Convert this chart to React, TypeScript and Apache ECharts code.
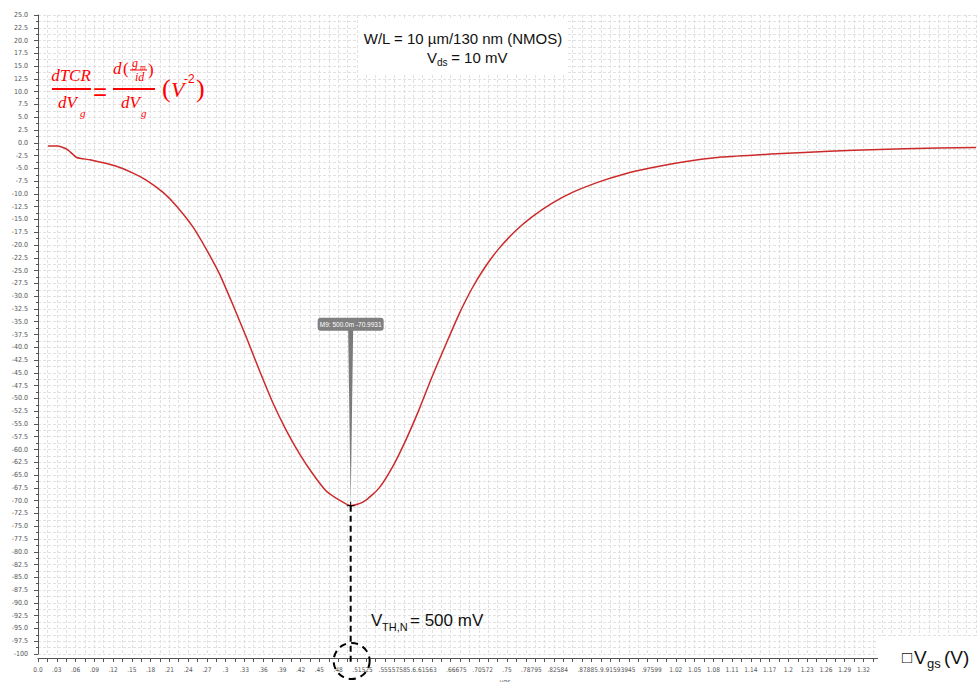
import React, { useEffect, useRef } from "react";
import * as echarts from "echarts";

// Vgs (V) sample points
const vgs = [
  0.016, 0.031, 0.046, 0.062, 0.083, 0.123, 0.152, 0.173, 0.2, 0.221, 0.248, 0.269,
  0.29, 0.311, 0.333, 0.354, 0.375, 0.397, 0.418, 0.439, 0.46, 0.482, 0.5, 0.521,
  0.545, 0.567, 0.588, 0.609, 0.63, 0.652, 0.673, 0.694, 0.715, 0.737, 0.763, 0.79,
  0.821, 0.853, 0.896, 0.938, 0.981, 1.029, 1.093, 1.172, 1.225, 1.305, 1.385, 1.5,
];
// dTCR/dVg (V^-2)
const dtcr = [
  -0.65, -0.65, -1.23, -2.87, -3.32, -4.49, -5.93, -7.3, -9.7, -12.3, -16.5, -20.8,
  -25.6, -31.5, -38.0, -44.5, -50.7, -56.25, -60.8, -64.7, -68.0, -69.9, -70.9931, -70.2,
  -67.6, -63.4, -58.2, -52.3, -45.8, -39.5, -33.6, -28.5, -24.3, -20.7, -17.3, -14.5,
  -11.9, -9.8, -7.7, -6.1, -4.9, -3.8, -2.8, -2.2, -1.9, -1.45, -1.17, -0.91,
];
// x tick labels shown by the original tool
const xTickLabels = [
  "0.0", ".03", ".06", ".09", ".12", ".15", ".18", ".21", ".24", ".27", ".3", ".33", ".36",
  ".39", ".42", ".45", ".48", ".51", ".525", ".555", ".57", ".585", ".6", ".615", ".63",
  ".66", ".675", ".705", ".72", ".75", ".78", ".795", ".825", ".84", ".87", ".885", ".9",
  ".915", ".93", ".945", ".975", ".99", "1.02", "1.05", "1.08", "1.11", "1.14", "1.17",
  "1.2", "1.23", "1.26", "1.29", "1.32",
];
const markerX = 0.5;
const markerY = -70.9931;
const markerLabel = "M9: 500.0m -70.9931";

const RED = "#ff0000";
const SERIF = "'Liberation Serif', 'DejaVu Serif', serif";
const SANS = "'Liberation Sans', Arial, sans-serif";
const AXF = "'DejaVu Sans Condensed', 'Liberation Sans Narrow', 'Liberation Sans', sans-serif";

export default function App() {
  const ref = useRef<HTMLDivElement>(null);
  useEffect(() => {
    if (!ref.current) return;
    const chart = echarts.init(ref.current, null, { renderer: "svg" });
    const labelMap = new Map<number, string>();
    xTickLabels.forEach((t) => labelMap.set(Math.round(parseFloat(t) * 1000), t));
    const grid = "#e1e1e1";
    chart.setOption({
      animation: false,
      backgroundColor: "#ffffff",
      grid: { left: 38, right: 0, top: 15, bottom: 28, containLabel: false },
      xAxis: {
        type: "value",
        min: 0,
        max: 1.5,
        interval: 0.015,
        offset: 4,
        axisLine: { show: true, onZero: false, lineStyle: { color: "#555", width: 1 } },
        axisTick: { show: true, length: 4, lineStyle: { color: "#555" } },
        axisLabel: {
          interval: 0,
          hideOverlap: false,
          fontSize: 6.5,
          color: "#555",
          fontFamily: AXF,
          margin: 8,
          formatter: (v: number) => labelMap.get(Math.round(v * 1000)) ?? "",
        },
        splitLine: { show: true, lineStyle: { color: grid, type: [3, 2], width: 1 } },
      },
      yAxis: {
        type: "value",
        min: -100,
        max: 25,
        interval: 2.5,
        offset: 3,
        axisLine: { show: true, lineStyle: { color: "#555", width: 1 } },
        axisTick: { show: true, length: 4, lineStyle: { color: "#555" } },
        minorTick: { show: true, splitNumber: 2, length: 2, lineStyle: { color: "#555" } },
        axisLabel: {
          fontSize: 7,
          color: "#555",
          fontFamily: AXF,
          margin: 7,
          formatter: (v: number) => (Math.abs(v + 100) < 1e-6 ? "-100" : v.toFixed(1)),
        },
        splitLine: { show: true, lineStyle: { color: grid, type: [3, 2], width: 1 } },
        minorSplitLine: { show: true, lineStyle: { color: grid, type: [3, 2], width: 1 } },
      },
      series: [
        {
          type: "line",
          data: vgs.map((x, i) => [x, dtcr[i]]),
          showSymbol: false,
          symbol: "none",
          smooth: 0.2,
          lineStyle: { color: "#cc2a2a", width: 1.5 },
          z: 3,
        },
      ],
    });

    const p = chart.convertToPixel({ gridIndex: 0 }, [markerX, markerY]) as number[];
    const axisBottom = (chart.convertToPixel({ gridIndex: 0 }, [0, -100]) as number[])[1];
    const px = p[0];
    const py = p[1];
    const Z = 100;

    const t = (text: string, x: number, y: number, size: number, extra: any = {}) => ({
      type: "text",
      z: Z + 2,
      x,
      y,
      style: {
        text,
        fontSize: size,
        fill: extra.fill ?? RED,
        fontFamily: extra.fontFamily ?? SERIF,
        fontStyle: extra.fontStyle ?? "italic",
        textAlign: extra.align ?? "left",
        textVerticalAlign: "middle",
      },
    });
    const bar = (x1: number, x2: number, y: number, h = 2) => ({
      type: "rect",
      z: Z + 2,
      shape: { x: x1, y: y - h / 2, width: x2 - x1, height: h },
      style: { fill: RED },
    });
    const black = { fill: "#111", fontFamily: SANS, fontStyle: "normal" };

    chart.setOption({
      graphic: [
        // top info box
        { type: "rect", z: Z, shape: { x: 358, y: 18, width: 210, height: 55 }, style: { fill: "#fff" } },
        t("W/L = 10 µm/130 nm (NMOS)", 463, 38, 15, { ...black, align: "center" }),
        t("V", 427, 57, 15, black),
        t("ds", 437, 62, 10, black),
        t(" = 10 mV", 447, 57, 15, black),
        // formula
        t("dTCR", 71, 75, 17, { align: "center" }),
        bar(52, 91, 89),
        t("dV", 58, 102, 17),
        t("g", 80, 113, 11),
        t("=", 100, 91, 24, { align: "center", fontStyle: "normal", fontFamily: SANS }),
        t("d", 113, 68, 17),
        t("(", 123, 68, 17, { fontStyle: "normal" }),
        t("g", 132, 63, 12),
        t("m", 140, 67, 8),
        { type: "rect", z: Z + 2, shape: { x: 130, y: 69.5, width: 17, height: 1 }, style: { fill: RED } },
        t("id", 135, 77, 12),
        t(")", 148, 69, 17, { fontStyle: "normal" }),
        bar(113, 155, 89),
        t("dV", 121, 102, 17),
        t("g", 141, 113, 11),
        t("(", 162, 88, 26, { fontStyle: "normal" }),
        t("V", 171, 89, 22),
        t("-2", 184, 79, 12, { fontStyle: "normal", fontFamily: SANS }),
        t(")", 196, 88, 26, { fontStyle: "normal" }),
        // bottom-right axis name box
        { type: "rect", z: Z, shape: { x: 878, y: 636, width: 101, height: 46 }, style: { fill: "#fff" } },
        t("□", 902, 657, 17, black),
        t("V", 914, 657, 19, black),
        t("gs", 927, 663, 13, black),
        t("(V)", 944, 657, 19, black),
        // clipped x-axis name
        t("vgs", 505, 682, 7, { fill: "#555", fontFamily: AXF, fontStyle: "normal", align: "center" }),
        // threshold annotation
        t("V", 371, 620, 17, black),
        t("TH,N", 382, 627, 11, black),
        t("= 500 mV", 410, 620, 17, black),
        // marker stem + label
        {
          type: "polygon",
          z: Z + 1,
          shape: { points: [[px - 2.5, py - 176], [px + 2.5, py - 176], [px, py]] },
          style: { fill: "#7a7a7a" },
        },
        {
          type: "rect",
          z: Z + 1,
          shape: { x: px - 33, y: py - 188, width: 66, height: 13, r: 3 },
          style: { fill: "#808080" },
        },
        t(markerLabel, px, py - 181.5, 6.5, { fill: "#fff", fontFamily: SANS, fontStyle: "normal", align: "center" }),
        // dashed drop line
        {
          type: "line",
          z: Z + 1,
          shape: { x1: px, y1: py, x2: px, y2: axisBottom + 8 },
          style: { stroke: "#000", lineWidth: 2, lineDash: [6, 4] },
        },
        // cross at peak
        { type: "line", z: Z + 1, shape: { x1: px - 4, y1: py, x2: px + 4, y2: py }, style: { stroke: "#000", lineWidth: 1 } },
        { type: "line", z: Z + 1, shape: { x1: px, y1: py - 4, x2: px, y2: py + 4 }, style: { stroke: "#000", lineWidth: 1 } },
        // dashed circle on the axis
        {
          type: "circle",
          z: Z + 1,
          shape: { cx: px + 1, cy: axisBottom + 7, r: 18 },
          style: { fill: "none", stroke: "#000", lineWidth: 2, lineDash: [7, 5] },
        },
      ],
    });
    return () => chart.dispose();
  }, []);
  return (
    <div
      ref={ref}
      style={{ position: "absolute", left: 0, top: 0, width: 979, height: 682, background: "#fff" }}
    />
  );
}
